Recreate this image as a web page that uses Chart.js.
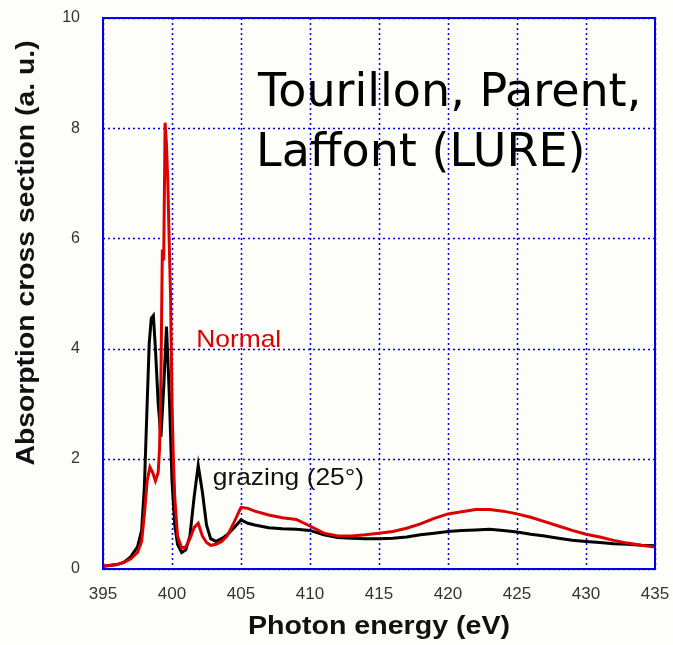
<!DOCTYPE html>
<html>
<head>
<meta charset="utf-8">
<script src="https://cdn.jsdelivr.net/npm/chart.js@4"></script>
<style>
  html, body { margin: 0; padding: 0; background: #fdfdf9; }
  #wrap { width: 673px; height: 645px; }
</style>
</head>
<body>
<div id="wrap"><canvas id="xasChart" width="673" height="645"></canvas></div>
<script>
// N K-edge absorption
const normalE = [395, 396, 396.5, 397, 397.5, 397.8, 398.0, 398.2, 398.4, 398.6, 398.8, 399.0, 399.1, 399.2, 399.3, 399.4, 399.5, 399.6, 399.7, 399.8, 399.9, 400.0, 400.1, 400.2, 400.4, 400.7, 401.0, 401.3, 401.6, 401.9, 402.2, 402.5, 402.8, 403.2, 403.6, 404.0, 404.5, 405.0, 405.5, 406, 407, 408, 409, 410, 411, 412, 413, 414, 415, 416, 417, 418, 419, 420, 421, 422, 423, 424, 425, 426, 427, 428, 429, 430, 431, 432, 433, 434, 435];
const normalY = [0.05, 0.08, 0.12, 0.18, 0.3, 0.5, 1.0, 1.6, 1.85, 1.75, 1.6, 1.75, 2.2, 3.5, 5.8, 5.6, 8.1, 7.7, 7.0, 5.9, 4.9, 3.0, 2.0, 1.3, 0.6, 0.38, 0.4, 0.55, 0.75, 0.83, 0.6, 0.48, 0.43, 0.45, 0.5, 0.6, 0.85, 1.12, 1.1, 1.05, 0.98, 0.93, 0.9, 0.78, 0.65, 0.6, 0.6, 0.62, 0.65, 0.68, 0.74, 0.82, 0.92, 1.0, 1.04, 1.08, 1.08, 1.05, 1.0, 0.94, 0.86, 0.78, 0.7, 0.63, 0.58, 0.52, 0.47, 0.43, 0.4];

const grazingE = [395, 396, 396.5, 397, 397.5, 397.8, 398.0, 398.2, 398.35, 398.5, 398.65, 398.8, 399.0, 399.2, 399.4, 399.6, 399.8, 400.0, 400.2, 400.4, 400.7, 401.0, 401.3, 401.6, 401.9, 402.2, 402.5, 402.8, 403.2, 403.6, 404.0, 404.5, 405.0, 405.5, 406, 407, 408, 409, 410, 411, 412, 413, 414, 415, 416, 417, 418, 419, 420, 421, 422, 423, 424, 425, 426, 427, 428, 429, 430, 431, 432, 433, 434, 435];
const grazingY = [0.05, 0.08, 0.12, 0.22, 0.4, 0.7, 1.5, 3.0, 4.1, 4.55, 4.6, 4.0, 3.0, 2.4, 3.3, 4.4, 3.2, 1.6, 0.8, 0.45, 0.3, 0.35, 0.6, 1.3, 1.88, 1.4, 0.8, 0.55, 0.5, 0.55, 0.62, 0.75, 0.89, 0.83, 0.8, 0.75, 0.73, 0.72, 0.7, 0.62, 0.57, 0.56, 0.55, 0.55, 0.56, 0.58, 0.62, 0.65, 0.68, 0.7, 0.71, 0.72, 0.7, 0.67, 0.63, 0.6, 0.56, 0.52, 0.5, 0.48, 0.46, 0.45, 0.43, 0.42];

const xTicks = [395, 400, 405, 410, 415, 420, 425, 430, 435];
const yTicks = [0, 2, 4, 6, 8, 10];

const toPoints = (xs, ys) => xs.map((x, i) => ({ x: x, y: ys[i] }));

// text in the source is a bit wider than Arial, so stretch it a little
function wideText(c, str, x, y, sx) {
  c.save();
  c.translate(x, y);
  c.scale(sx, 1);
  c.fillText(str, 0, 0);
  c.restore();
}

// page background + free text (axis titles, labels, credit)
const textPlugin = {
  id: 'textPlugin',
  beforeDraw(chart) {
    const c = chart.ctx;
    c.save();
    c.fillStyle = '#fdfdf9';
    c.fillRect(0, 0, chart.width, chart.height);
    c.restore();
  },
  afterDraw(chart) {
    const c = chart.ctx;
    const xs = chart.scales.x, ys = chart.scales.y;
    c.save();
    c.fillStyle = '#111';
    c.font = 'bold 26px "Liberation Sans", Arial, sans-serif';
    c.textAlign = 'center';
    c.textBaseline = 'middle';
    wideText(c, 'Photon energy (eV)', 379, 627, 1.1);
    c.translate(27, 253);
    c.rotate(-Math.PI / 2);
    wideText(c, 'Absorption cross section (a. u.)', 0, 0, 1.09);
    c.restore();

    c.save();
    c.textBaseline = 'middle';
    c.textAlign = 'left';
    c.font = '24px "Liberation Sans", Arial, sans-serif';
    c.fillStyle = '#dd0000';
    wideText(c, 'Normal', xs.getPixelForValue(401.75), ys.getPixelForValue(4.15), 1.1);
    c.fillStyle = '#111';
    wideText(c, 'grazing (25°)', xs.getPixelForValue(402.95), ys.getPixelForValue(1.65), 1.1);
    c.fillStyle = '#000';
    c.font = '46px "DejaVu Sans", sans-serif';
    c.textBaseline = 'alphabetic';
    c.fillText('Tourillon, Parent,', 258, 106);
    c.fillText('Laffont (LURE)', 256, 166);
    c.restore();
  }
};

new Chart(document.getElementById('xasChart'), {
  type: 'line',
  data: {
    datasets: [
      {
        label: 'Normal',
        data: toPoints(normalE, normalY),
        borderColor: '#dd0000',
        borderWidth: 3,
        pointRadius: 0,
        tension: 0
      },
      {
        label: 'grazing (25°)',
        data: toPoints(grazingE, grazingY),
        borderColor: '#000000',
        borderWidth: 3,
        pointRadius: 0,
        tension: 0
      }
    ]
  },
  options: {
    responsive: false,
    animation: false,
    layout: { padding: { top: 18, right: 18, left: 0, bottom: 0 } },
    plugins: { legend: { display: false }, tooltip: { enabled: false } },
    scales: {
      x: {
        type: 'linear',
        min: 395,
        max: 435,
        afterBuildTicks: s => { s.ticks = xTicks.map(v => ({ value: v })); },
        afterFit: s => { s.height = 76; s.paddingLeft = 0; s.paddingRight = 0; },
        ticks: { color: '#333', font: { family: '"Liberation Sans", Arial, sans-serif', size: 17 }, padding: 7, maxRotation: 0 },
        grid: { display: false },
        border: { color: '#0000ee', width: 2 }
      },
      y: {
        min: 0,
        max: 10,
        afterBuildTicks: s => { s.ticks = yTicks.map(v => ({ value: v })); },
        afterFit: s => { s.width = 103; s.paddingTop = 0; s.paddingBottom = 0; },
        ticks: { color: '#333', font: { family: '"Liberation Sans", Arial, sans-serif', size: 16 }, padding: 15 },
        grid: { display: false },
        border: { color: '#0000ee', width: 2 }
      }
    }
  },
  plugins: [textPlugin, {
    id: 'frame',
    beforeDatasetsDraw(chart) {
      // dotted grid look of the original
      const a = chart.chartArea, c = chart.ctx;
      c.save();
      c.strokeStyle = '#0000ee';
      c.lineWidth = 1.5;
      c.setLineDash([2, 3]);
      chart.scales.x.ticks.forEach(t => {
        const px = Math.round(chart.scales.x.getPixelForValue(t.value)) + 0.5;
        c.beginPath(); c.moveTo(px, a.top); c.lineTo(px, a.bottom); c.stroke();
      });
      chart.scales.y.ticks.forEach(t => {
        const py = Math.round(chart.scales.y.getPixelForValue(t.value)) + 0.5;
        c.beginPath(); c.moveTo(a.left, py); c.lineTo(a.right, py); c.stroke();
      });
      c.restore();
    },
    afterDatasetsDraw(chart) {
      const a = chart.chartArea, c = chart.ctx;
      c.save();
      c.strokeStyle = '#0000ee';
      c.lineWidth = 2;
      c.strokeRect(a.left, a.top, a.right - a.left, a.bottom - a.top);
      c.restore();
    }
  }]
});
</script>
</body>
</html>
